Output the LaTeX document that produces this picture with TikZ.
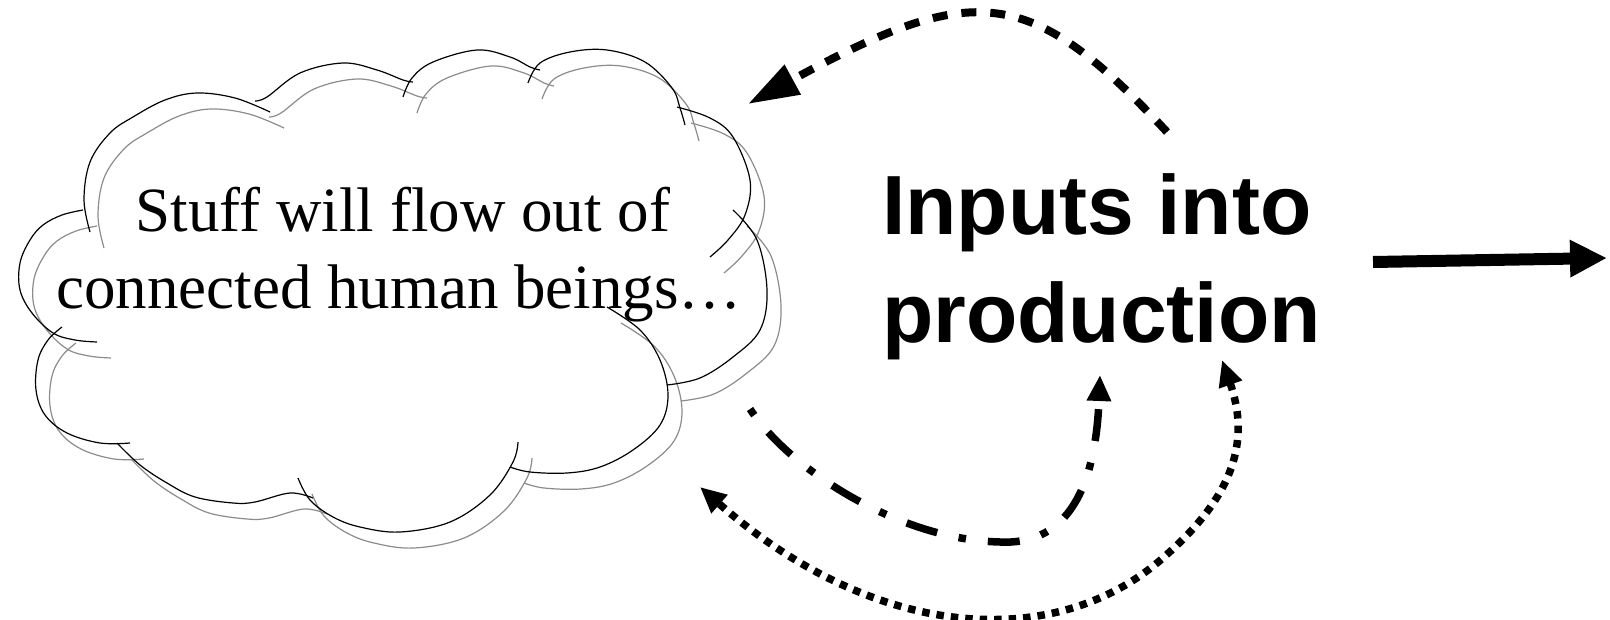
\documentclass[tikz,border=0pt]{standalone}
\usepackage{fontspec}
\setmainfont{Liberation Serif}
\newfontfamily\headfont{Liberation Sans}
\usetikzlibrary{arrows.meta}
\def\cloudlobes#1{%
  \draw[#1] plot[smooth,tension=0.6] coordinates {(90,232) (84,200) (90,162) (110,133) (133,117) (165,100) (197,93) (235,98) (270,112)};
  \draw[#1] plot[smooth,tension=0.6] coordinates {(255,101) (267,97) (300,73) (343,63) (377,70) (403,80) (413,82)};
  \draw[#1] plot[smooth,tension=0.6] coordinates {(403,97) (412,78) (433,62) (477,50) (510,57) (530,67) (540,70)};
  \draw[#1] plot[smooth,tension=0.6] coordinates {(528,83) (540,63) (570,52) (607,50) (645,62) (672,88) (680,108) (685,125)};
  \draw[#1] plot[smooth,tension=0.6] coordinates {(677,107) (710,118) (733,137) (750,180) (745,215) (728,240) (710,257)};
  \draw[#1] plot[smooth,tension=0.6] coordinates {(733,210) (757,240) (767,290) (760,330) (733,357) (700,378) (667,385)};
  \draw[#1] plot[smooth,tension=0.6] coordinates {(607,307) (640,330) (660,360) (668,395) (660,425) (633,450) (600,467) (567,473) (530,472) (510,467)};
  \draw[#1] plot[smooth,tension=0.6] coordinates {(518,442) (513,462) (490,495) (450,522) (400,532) (360,527) (333,517) (310,500) (298,478)};
  \draw[#1] plot[smooth,tension=0.6] coordinates {(313,498) (290,493) (255,502) (233,503) (195,497) (167,483) (140,465) (117,443)};
  \draw[#1] plot[smooth,tension=0.6] coordinates {(130,443) (100,443) (67,433) (45,415) (36,390) (38,360) (48,340) (62,327)};
  \draw[#1] plot[smooth,tension=0.6] coordinates {(97,342) (75,340) (53,333) (32,313) (20,290) (20,263) (30,240) (43,225) (62,215) (83,210)};
}
\begin{document}
\begin{tikzpicture}[x=1bp,y=-1bp,
  cloudline/.style={line width=1.2bp},
  cloudtext/.style={font=\fontsize{63bp}{76bp}\selectfont, anchor=base, inner sep=0pt},
  headtext/.style={font=\headfont\bfseries\fontsize{84bp}{100bp}\selectfont, anchor=base west, inner sep=0pt},
  dashline/.style={line width=8bp, dash pattern=on 15bp off 14bp},
  dashdotline/.style={line width=7.5bp, dash pattern=on 7.5bp off 22bp on 32bp off 22bp},
  dotline/.style={line width=7.5bp, dash pattern=on 7.5bp off 7bp},
  bigtip/.tip={Triangle[length=51bp,width=32bp]},
  smalltip/.tip={Triangle[length=26bp,width=23bp]},
  solidtip/.tip={Triangle[length=37bp,width=35bp]}]
\useasboundingbox (0,0) rectangle (1610,620);
\fill[white] (0,0) rectangle (1610,620);

% cloud: grey copy and black outline
\begin{scope}[shift={(14,16)}]
  \cloudlobes{cloudline, black!45}
\end{scope}
\cloudlobes{cloudline, black}

% texts
\node[cloudtext] (cl1) at (403,232) {Stuff will flow out of};
\node[cloudtext] (cl2) at (399,308) {connected human beings\ldots};
\node[headtext] (in1) at (882,235) {Inputs into};
\node[headtext] (in2) at (882,342) {production};

% connector end points
\coordinate (d1s) at (1167,132);
\coordinate (d1e) at (748,104);
\coordinate (dd1) at (750,409);
\coordinate (ddm) at (1000,542);
\coordinate (dd2) at (1100,375);
\coordinate (dt1) at (1222,360);
\coordinate (dtm) at (1164,557);
\coordinate (dt2) at (700,487);
\coordinate (s1) at (1373,262);
\coordinate (s2) at (1607,258);

% connectors
\draw[dashline, -bigtip] (d1s) .. controls (1030,-15) and (975,-20) .. (d1e);
\draw[dashdotline, -smalltip] (dd1) .. controls (790,470) and (900,540) .. (ddm)
   .. controls (1060,545) and (1095,500) .. (dd2);
\draw[dotline, smalltip-smalltip] (dt1) .. controls (1250,440) and (1235,495) .. (dtm)
   .. controls (1060,650) and (880,645) .. (dt2);
\draw[line width=12bp, -solidtip] (s1) -- (s2);
\end{tikzpicture}
\end{document}
